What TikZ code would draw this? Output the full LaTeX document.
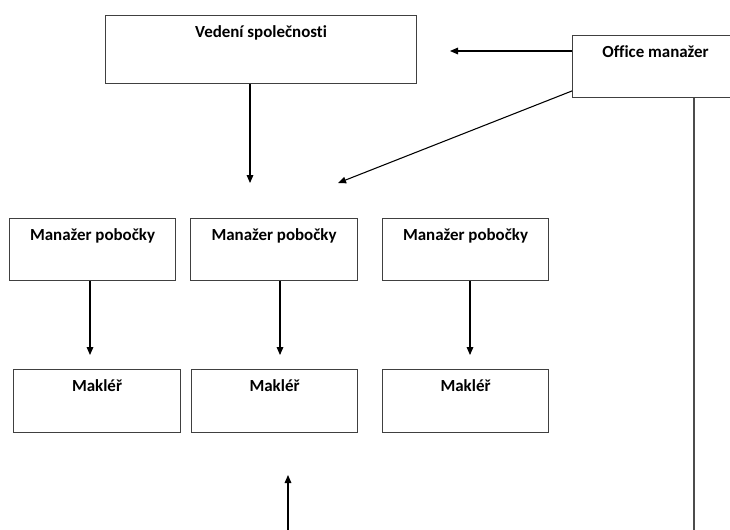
\documentclass[tikz,border=0pt]{standalone}
\usepackage{fontspec}
\setmainfont[Ligatures=NoCommon]{Carlito}
\usetikzlibrary{arrows.meta,positioning,calc}

\begin{document}
\begin{tikzpicture}[
    x=0.75pt, y=-0.75pt,
    every node/.style={font=\fontsize{12.7}{15}\selectfont\bfseries},
    box/.style={draw,black!75,line width=0.8pt,text=black,inner sep=0pt,anchor=north west,
                minimum width=#1,text height=16.5pt},
    line/.style={-{Triangle[length=6pt,width=5pt]},line width=0.8pt,black},
    fline/.style={line width=0.8pt,black!70}
]
\useasboundingbox (0,0) rectangle (730,529);

% Top level (office box runs past the right edge)
\node[box=233.25pt,text depth=34.5pt] (VED) at (105,15) {Vedení společnosti};
\node[box=154.5pt,text depth=30pt] (OFF) at (572,35)
    {\makebox[124.5pt]{Office manažer}\hspace*{30pt}};

% Branch managers
\node[box=124.5pt,text depth=30pt] (MP1) at (9,218) {Manažer pobočky};
\node[box=125.25pt,text depth=30pt] (MP2) at (190,218) {Manažer pobočky};
\node[box=124.5pt,text depth=30pt] (MP3) at (382,218) {Manažer pobočky};

% Brokers
\node[box=125.25pt,text depth=30.75pt] (MK1) at (13,369) {Makléř};
\node[box=124.5pt,text depth=30.75pt] (MK2) at (191,369) {Makléř};
\node[box=124.5pt,text depth=30.75pt] (MK3) at (382,369) {Makléř};

% Free ends
\coordinate (vedEnd) at (250,183);
\coordinate (offEnd) at (450,51);
\coordinate (diagEnd) at (338,183);
\coordinate (offLow) at (694,535);
\coordinate (botStart) at (288,535);
\coordinate (botEnd) at (288,475);
\coordinate (mk1End) at (90,355);
\coordinate (mk2End) at (280,355);
\coordinate (mk3End) at (470,355);

% Connectors
\draw[line] (VED.south -| vedEnd) -- (vedEnd);
\draw[line] (OFF.west |- offEnd) -- (offEnd);
\draw[line] ($(OFF.north west)!0.887!(OFF.south west)$) -- (diagEnd);
\draw[fline] (OFF.south -| offLow) -- (offLow);
\draw[line] (MP1.south -| mk1End) -- (mk1End);
\draw[line] (MP2.south -| mk2End) -- (mk2End);
\draw[line] (MP3.south -| mk3End) -- (mk3End);
\draw[line] (botStart) -- (botEnd);

\end{tikzpicture}
\end{document}
